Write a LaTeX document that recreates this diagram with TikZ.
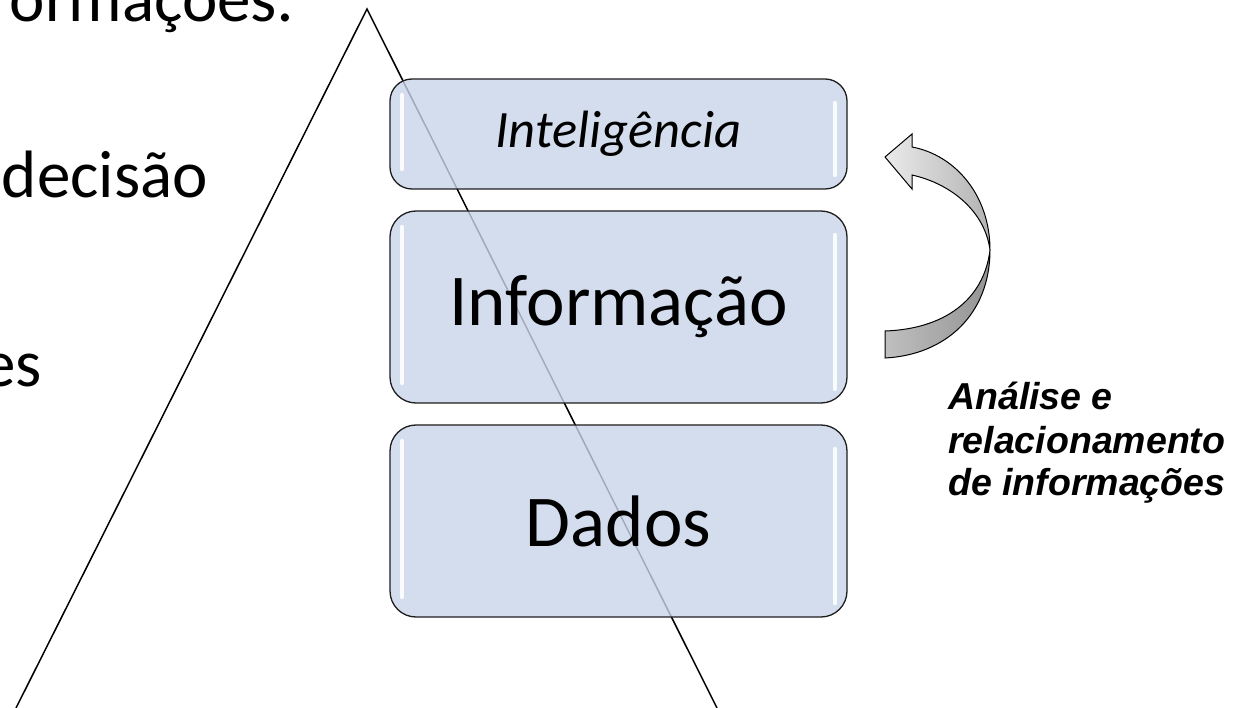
\documentclass[tikz,border=0pt]{standalone}
\usepackage{fontspec}
\setmainfont{Carlito}
\newfontfamily\arialfont{Liberation Sans}
\usetikzlibrary{positioning}
\definecolor{caixafundo}{RGB}{202,213,233}
\definecolor{caixaborda}{RGB}{30,30,30}
\tikzset{caixa/.style = {draw=caixaborda, line width=1.3pt, fill=caixafundo, fill opacity=.8, text opacity=1, rounded corners=22pt, minimum width=457pt, inner sep=0pt, outer sep=0pt},
brilho/.style = {white, line width=4.5pt, line cap=round, opacity=.9},
fita/.style = {draw=black, line width=1pt}}

\begin{document}
\begin{tikzpicture}[x=1pt,y=-1pt]
\useasboundingbox (0,0) rectangle (1243,708);
\fill[white] (0,0) rectangle (1243,708);

\node[anchor=base east, font=\fontsize{67}{80}\selectfont, inner sep=0pt] (t1) at (295,22) {ormações:};
\node[anchor=base east, font=\fontsize{67}{80}\selectfont, inner sep=0pt] (t2) at (208,198) {decisão};
\node[anchor=base east, font=\fontsize{67}{80}\selectfont, inner sep=0pt] (t3) at (42,387) {es};

\coordinate (apex) at (367,9);
\coordinate (baseE) at (16,708);
\coordinate (baseD) at (717,708);
\draw[line width=1.5pt] (baseE) -- (apex) -- (baseD);

\node[caixa, minimum height=110pt, font=\fontsize{52.5}{60}\selectfont\itshape] (inteligencia) at (618.5,134) {Inteligência};
\node[caixa, minimum height=192pt, rounded corners=26pt, font=\fontsize{73}{86}\selectfont] (informacao) at (618.5,307) {Informação};
\node[caixa, minimum height=192pt, rounded corners=26pt, font=\fontsize{73}{86}\selectfont] (dados) at (618.5,521) {Dados};

\foreach \n in {inteligencia,informacao,dados} {
  \draw[brilho] ([xshift=12pt,yshift=-16pt]\n.north west) -- ([xshift=12pt,yshift=20pt]\n.south west);
  \draw[brilho] ([xshift=-12pt,yshift=-24pt]\n.north east) -- ([xshift=-12pt,yshift=14pt]\n.south east);
}

\coordinate (ponta) at (885,157);
\coordinate (torcao) at (990,250);
\path[fita, left color=white!92!black, right color=white!70!black]
  (ponta) -- (912,134) -- (912,147) .. controls (955,155) and (990,195) .. (torcao)
  .. controls (985,212) and (952,184) .. (912,175) -- (912,189) -- cycle;
\path[fita, left color=white!75!black, right color=white!58!black]
  (torcao) .. controls (990,315) and (945,355) .. (885,358) -- (885,331)
  .. controls (944,329) and (984,300) .. (torcao) -- cycle;

\node[anchor=base west, align=left, inner sep=0pt, font=\arialfont\bfseries\itshape\fontsize{37.5}{43}\selectfont] (analise) at (948,496) {Análise e\\relacionamento\\de informações};
\end{tikzpicture}
\end{document}
